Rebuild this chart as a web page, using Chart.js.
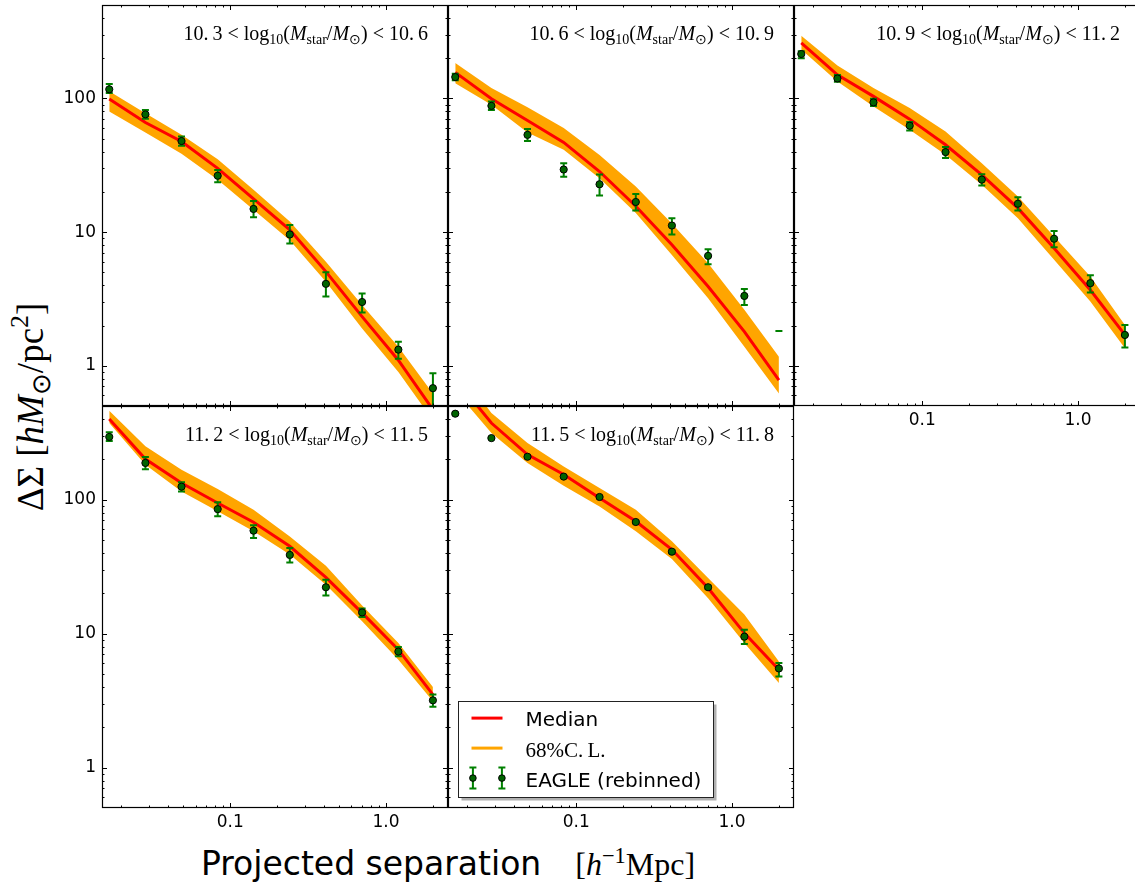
<!DOCTYPE html>
<html>
<head>
<meta charset="utf-8">
<script src="https://cdn.jsdelivr.net/npm/chart.js@4.4.0/dist/chart.umd.min.js"></script>
<style>
  html, body { margin: 0; padding: 0; background: #fff; overflow: hidden; }
  #fig { position: relative; width: 1135px; height: 883px; overflow: hidden; }
  #fig canvas { position: absolute; }
  .ann { position: absolute; font: 20px 'Liberation Serif', serif; white-space: nowrap;
         transform: translateX(-100%); line-height: 1; color: #000; }
  .ann sub, #ytitle sub { font-size: 70%; vertical-align: -0.3em; line-height: 0; }
  #ytitle sup, #xtitle sup { font-size: 70%; vertical-align: 0.55em; line-height: 0; }
  #ytitle { position: absolute; left: 30px; top: 407px; white-space: nowrap; line-height: 1;
            font: 37px 'Liberation Serif', serif; transform: translate(-50%, -50%) rotate(-90deg); }
  #xtitle { position: absolute; left: 448px; top: 844px; white-space: nowrap; line-height: 1;
            transform: translateX(-50%); }
  #xtitle .sans { font: 33px 'DejaVu Sans', sans-serif; }
  #xtitle .serif { font: 32px 'Liberation Serif', serif; margin-left: 34px; }
</style>
</head>
<body>
<div id="fig">
  <div id="ytitle">ΔΣ&nbsp;[<i>hM</i><sub>⊙</sub>/pc<sup>2</sup>]</div>
  <div id="xtitle"><span class="sans">Projected separation</span><span class="serif">[<i>h</i><sup>−1</sup>Mpc]</span></div>
</div>
<script>
// projected separation of the radial bins [h^-1 Mpc]
const xs = [0.0167, 0.0285, 0.0486, 0.083, 0.141, 0.241, 0.411, 0.702, 1.2, 2.0];

// stellar mass bin edges, log10(M_star/M_sun)
const binEdges = ['10.3', '10.6', '10.9', '11.2', '11.5', '11.8'];

// EAGLE lensing profiles, one row per mass bin
const eagle = [
    [117, 76, 48, 26.4, 14.9, 9.6, 4.1, 3.0, 1.32, 0.68],
    [144.5, 88, 53.4, 29.4, 22.8, 16.8, 11.2, 6.64, 3.33, null],
    [215, 141, 93.4, 62.5, 39.7, 24.7, 16.3, 8.92, 4.15, 1.70],
    [294, 188, 125, 85, 58.7, 38.7, 22.2, 14.4, 7.35, 3.18],
    [438, 288, 209, 148.6, 104.7, 68.1, 40.9, 22.2, 9.5, 5.5]
];
const eagleLo = [
    [110, 70.5, 44.3, 23.6, 12.9, 8.2, 3.3, 2.5, 1.13, 0.45],
    [136.5, 81.8, 48, 25.9, 18.8, 14.5, 9.6, 5.75, 2.85, null],
    [200, 133, 87.7, 57.6, 35.8, 22.3, 14.5, 7.71, 3.53, 1.37],
    [274, 169, 115, 75.2, 51.8, 34, 19.3, 13.3, 6.77, 2.85],
    [430, 283, 205, 146, 102.7, 66.7, 40.0, 21.6, 8.38, 4.8]
];
const eagleHi = [
    [128, 82, 52, 29.2, 17.1, 11.3, 5.0, 3.47, 1.51, 0.88],
    [153, 95, 59, 32.8, 27, 19.3, 12.7, 7.45, 3.76, 1.82],
    [225, 150, 99.5, 66.6, 43.3, 27.1, 18.2, 10.2, 4.75, 2.02],
    [318, 208, 135, 95.5, 64.3, 43.5, 25.3, 15.4, 7.95, 3.52],
    [446, 293, 213, 151, 106.7, 69.5, 41.8, 22.8, 10.7, 6.04]
];

// model median and 68% band
const median = [
    [99, 66, 47.6, 30, 17.7, 10.4, 5.06, 2.33, 1.10, 0.47],
    [156.6, 99.5, 68.4, 46.9, 28.4, 15.6, 8.04, 3.92, 1.80, 0.78],
    [260, 150, 103.6, 70, 45, 26.8, 15.1, 7.57, 3.69, 1.70],
    [400, 201, 133, 94.4, 67.8, 44.9, 26.3, 14.3, 7.6, 3.51],
    [800, 373, 217, 154, 103, 68.9, 42.4, 21.9, 10.1, 5.38]
];
const bandHi = [
    [113, 77.6, 53.5, 35.1, 20.7, 12, 6.0, 2.85, 1.39, 0.62],
    [184, 119.5, 86, 60, 37.8, 21.9, 11.6, 5.85, 2.62, 1.17],
    [295, 176, 119.6, 84.7, 56.6, 32.8, 18.5, 9.25, 4.65, 2.02],
    [461, 250, 167, 120, 84.2, 53.2, 32.1, 16.2, 8.52, 4.0],
    [1000, 444, 265, 177, 122, 84, 48.9, 26, 13.9, 6.2]
];
const bandLo = [
    [80, 55.7, 38.5, 24.6, 14.7, 8.7, 4.26, 1.9, 0.9, 0.39],
    [130, 89.7, 55.6, 41.3, 25.3, 13.9, 6.75, 3.2, 1.39, 0.62],
    [232, 134, 87.2, 58.3, 37.9, 22.6, 12.7, 6.2, 3.02, 1.35],
    [373, 182, 115, 81.8, 58, 38.9, 23.2, 12.4, 6.4, 3.13],
    [650, 315, 188, 127, 89, 58, 36, 18.4, 8.5, 4.28]
];

// axis ticks
const xMajor = [0.1, 1];
const yMajor = [1, 10, 100];
const xMinor = [];
const yMinor = [0.6, 0.7, 0.8, 0.9];
for (const d of [0.01, 0.1, 1]) {
    for (let m = 2; m <= 9; m++) {
        const v = m * d;
        if (v > 0.015 && v < 2.5) xMinor.push(v);
    }
}
for (const d of [1, 10, 100]) {
    for (let m = 2; m <= 9; m++) {
        if (m * d < 500) yMinor.push(m * d);
    }
}

// plot areas of the five panels (left, top, height), all 346 px wide
const panelPos = [[102, 5, 401], [448, 5, 401], [794, 5, 401], [102, 406, 402], [448, 406, 402]];
const fig = document.getElementById('fig');

const darkGreen = '#006400';
const barGreen = '#008000';

// frame with inward ticks on all four sides
const frameTicks = {
    id: 'frameTicks',
    afterDatasetsDraw(chart) {
        const {ctx, chartArea: a, scales: {x, y}} = chart;
        ctx.save();
        ctx.strokeStyle = '#000';
        ctx.lineWidth = 1;
        ctx.beginPath();
        const tickX = (v, len) => {
            const px = Math.round(x.getPixelForValue(v)) + 0.5;
            ctx.moveTo(px, a.bottom); ctx.lineTo(px, a.bottom - len);
            ctx.moveTo(px, a.top); ctx.lineTo(px, a.top + len);
        };
        const tickY = (v, len) => {
            const py = Math.round(y.getPixelForValue(v)) + 0.5;
            ctx.moveTo(a.left, py); ctx.lineTo(a.left + len, py);
            ctx.moveTo(a.right, py); ctx.lineTo(a.right - len, py);
        };
        xMajor.forEach(v => tickX(v, 5));
        xMinor.forEach(v => tickX(v, 2.5));
        yMajor.forEach(v => tickY(v, 5));
        yMinor.forEach(v => tickY(v, 2.5));
        ctx.stroke();
        ctx.lineWidth = 1.2;
        ctx.strokeRect(a.left + 0.5, a.top + 0.5, a.width - 1, a.height - 1);
        ctx.restore();
    }
};

// vertical error bars with caps, drawn under the markers
const errorBars = {
    id: 'errorBars',
    beforeDatasetDraw(chart, args) {
        const ds = chart.data.datasets[args.index];
        if (!ds.errHi) return;
        const {ctx, chartArea: a, scales: {x, y}} = chart;
        ctx.save();
        ctx.beginPath();
        ctx.rect(a.left, a.top, a.width, a.height);
        ctx.clip();
        ctx.strokeStyle = barGreen;
        ctx.lineWidth = 2;
        ds.data.forEach((p, i) => {
            const px = x.getPixelForValue(p.x);
            const lo = ds.errLo[i], hi = ds.errHi[i];
            ctx.beginPath();
            if (lo != null && hi != null) {
                ctx.moveTo(px, y.getPixelForValue(lo));
                ctx.lineTo(px, y.getPixelForValue(hi));
            }
            [lo, hi].forEach(e => {
                if (e == null) return;
                const py = y.getPixelForValue(e);
                ctx.moveTo(px - 3.5, py);
                ctx.lineTo(px + 3.5, py);
            });
            ctx.stroke();
        });
        ctx.restore();
    }
};

// legend box in the lower left of the last panel
const legendBox = {
    id: 'legendBox',
    afterDraw(chart) {
        const {ctx, chartArea: a} = chart;
        const bx = a.left + 10.5, by = a.bottom - 106.5, w = 255, h = 96;
        ctx.save();
        ctx.fillStyle = '#b0b0b0';
        ctx.fillRect(bx + 3, by + 3, w, h);
        ctx.fillStyle = '#fff';
        ctx.fillRect(bx, by, w, h);
        ctx.strokeStyle = '#222';
        ctx.lineWidth = 1;
        ctx.strokeRect(bx, by, w, h);

        const rows = [by + 16.6, by + 46.6, by + 76.6];
        ctx.lineWidth = 3;
        ctx.strokeStyle = '#ff0000';
        ctx.beginPath(); ctx.moveTo(bx + 13, rows[0]); ctx.lineTo(bx + 44, rows[0]); ctx.stroke();
        ctx.strokeStyle = '#ffa500';
        ctx.beginPath(); ctx.moveTo(bx + 13, rows[1]); ctx.lineTo(bx + 44, rows[1]); ctx.stroke();

        [bx + 14.4, bx + 43.4].forEach(px => {
            ctx.strokeStyle = barGreen;
            ctx.lineWidth = 2;
            ctx.beginPath();
            ctx.moveTo(px, rows[2] - 10.5); ctx.lineTo(px, rows[2] + 10.5);
            ctx.moveTo(px - 3.5, rows[2] - 10.5); ctx.lineTo(px + 3.5, rows[2] - 10.5);
            ctx.moveTo(px - 3.5, rows[2] + 10.5); ctx.lineTo(px + 3.5, rows[2] + 10.5);
            ctx.stroke();
            ctx.fillStyle = darkGreen;
            ctx.strokeStyle = '#000';
            ctx.lineWidth = 1;
            ctx.beginPath(); ctx.arc(px, rows[2], 3.3, 0, Math.PI * 2); ctx.fill(); ctx.stroke();
        });

        ctx.fillStyle = '#000';
        ctx.textBaseline = 'alphabetic';
        ctx.font = "20px 'DejaVu Sans'";
        ctx.fillText('Median', bx + 67, rows[0] + 7.7);
        ctx.fillText('EAGLE (rebinned)', bx + 67, rows[2] + 8.4);
        ctx.font = "21px 'Liberation Serif'";
        ctx.fillText('68%C.\u2009L.', bx + 67, rows[1] + 8.4);
        ctx.restore();
    }
};

// fixed axis boxes so every plot area lands on its panel rectangle
function fixBox(s, size) {
    if (s.isHorizontal()) s.height = size; else s.width = size;
    s.paddingTop = 0;
    s.paddingBottom = 0;
    s.paddingLeft = 0;
    s.paddingRight = 0;
}

function makePanel(k) {
    const [left, top, h] = panelPos[k];
    const canvas = document.createElement('canvas');
    canvas.width = 60 + 346 + 10;
    canvas.height = 10 + h + 40;
    canvas.style.left = (left - 60) + 'px';
    canvas.style.top = (top - 10) + 'px';
    fig.appendChild(canvas);

    const pts = arr => xs.map((x, i) => ({x: x, y: arr[i]}));
    const tickFont = {family: 'DejaVu Sans', size: 17};
    const plugins = [frameTicks, errorBars];
    if (k === 4) plugins.push(legendBox);

    return new Chart(canvas.getContext('2d'), {
        type: 'scatter',
        data: {
            datasets: [{
                label: 'EAGLE (rebinned)',
                data: pts(eagle[k]),
                errLo: eagleLo[k],
                errHi: eagleHi[k],
                showLine: false,
                pointRadius: 3.6,
                pointBackgroundColor: darkGreen,
                pointBorderColor: '#000',
                pointBorderWidth: 1
            }, {
                label: 'Median',
                data: pts(median[k]),
                showLine: true,
                borderColor: '#ff0000',
                borderWidth: 3,
                pointRadius: 0,
                fill: false
            }, {
                label: '68%C.L.',
                data: pts(bandHi[k]),
                showLine: true,
                borderWidth: 0,
                borderColor: '#ffa500',
                backgroundColor: '#ffa500',
                pointRadius: 0,
                fill: '+1'
            }, {
                data: pts(bandLo[k]),
                showLine: true,
                borderWidth: 0,
                borderColor: '#ffa500',
                pointRadius: 0,
                fill: false
            }]
        },
        options: {
            responsive: false,
            animation: false,
            events: [],
            layout: {padding: {left: 0, top: 10, right: 10, bottom: 0}},
            plugins: {
                legend: {display: false},
                tooltip: {enabled: false}
            },
            scales: {
                x: {
                    type: 'logarithmic',
                    min: 0.015,
                    max: 2.5,
                    grid: {display: false, drawTicks: false},
                    border: {display: false},
                    afterFit: s => fixBox(s, 40),
                    afterBuildTicks: s => { s.ticks = xMajor.map(v => ({value: v})); },
                    ticks: {
                        display: k >= 2,
                        padding: 4,
                        color: '#000',
                        font: tickFont,
                        maxRotation: 0,
                        callback: v => v.toFixed(1)
                    }
                },
                y: {
                    type: 'logarithmic',
                    min: 0.5,
                    max: 500,
                    grid: {display: false, drawTicks: false},
                    border: {display: false},
                    afterFit: s => fixBox(s, 60),
                    afterBuildTicks: s => { s.ticks = yMajor.map(v => ({value: v})); },
                    ticks: {
                        display: k === 0 || k === 3,
                        padding: 6,
                        color: '#000',
                        font: tickFont,
                        callback: v => String(v)
                    }
                }
            }
        },
        plugins: plugins
    });
}

// mass bin label in the upper right of each panel
function addLabel(k) {
    const [left, top] = panelPos[k];
    const div = document.createElement('div');
    div.className = 'ann';
    div.style.left = (left + 346 - 20) + 'px';
    div.style.top = (top + 18) + 'px';
    const lo = binEdges[k].replace('.', '.\u2009');
    const hi = binEdges[k + 1].replace('.', '.\u2009');
    div.innerHTML = lo + ' &lt; log<sub>10</sub>(<i>M</i><sub>star</sub>/<i>M</i><sub>⊙</sub>) &lt; ' + hi;
    fig.appendChild(div);
}

for (let k = 0; k < 5; k++) {
    makePanel(k);
    addLabel(k);
}
</script>
</body>
</html>
